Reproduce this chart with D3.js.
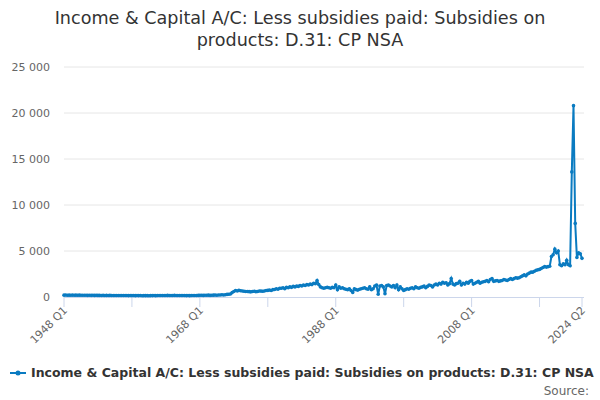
<!DOCTYPE html><html><head><meta charset="utf-8"><script src="https://cdn.jsdelivr.net/npm/d3@7"></script>
<style>body{margin:0;background:#fff;font-family:"DejaVu Sans",sans-serif}</style></head><body><svg id="c" width="600" height="400"></svg><script>
const startYear=1948;
const values=[200,210,190,200,195,205,190,200,190,200,185,195,185,190,180,190,180,185,175,185,175,180,170,180,170,175,165,175,165,170,160,170,160,165,155,165,160,165,150,160,
150,160,145,155,150,155,140,150,145,150,140,150,150,160,145,155,160,170,155,165,165,175,160,170,170,180,160,170,160,170,155,165,150,160,145,160,160,170,160,175,
180,190,175,185,190,200,180,195,200,215,190,210,220,240,210,250,280,300,330,480,
600,700,650,720,680,650,620,600,600,580,560,600,620,580,600,650,640,620,660,700,
720,760,700,800,820,900,850,950,950,1000,900,1050,1000,1100,1050,1150,1100,1200,1150,1250,
1200,1300,1250,1350,1300,1400,1350,1500,1450,1800,1350,1100,1000,950,1000,1050,1000,950,1050,1000,
1300,800,1100,950,1000,900,850,800,900,700,500,900,800,750,850,900,950,1000,900,850,
1100,800,900,1200,1300,300,1200,1250,1100,350,1250,1300,1200,1100,1250,1000,1300,800,1100,900,
700,800,900,850,950,1000,900,1100,1000,950,1050,1100,1200,1000,1150,1300,1250,1100,1300,1400,
1300,1500,1400,1600,1500,1550,1300,1450,2000,1400,1300,1450,1500,1700,1300,1500,1400,1600,1500,1700,
1800,1400,1500,1600,1700,1500,1600,1650,1700,1800,1650,1900,2000,1700,1750,1800,1700,1750,1800,1900,
1850,1800,1900,2000,1900,2000,2100,2050,2100,2200,2300,2400,2300,2500,2600,2700,2700,2800,2900,2950,
3000,3100,3200,3300,3250,3300,3350,4400,4600,5200,4800,5000,3500,3400,3600,3500,4000,3500,3400,13600,
20800,8000,4300,4800,4700,4200];
const labels=values.map((v,i)=>`${startYear+Math.floor(i/4)} Q${i%4+1}`);
const shownLabels=["1948 Q1","1968 Q1","1988 Q1","2008 Q1","2024 Q2"];
const yTicks=[0,5000,10000,15000,20000,25000];
const seriesName="Income & Capital A/C: Less subsidies paid: Subsidies on products: D.31: CP NSA";
const svg=d3.select("#c");
const L=64,R=582,T=67,B=297;
const x=d3.scaleLinear().domain([0,values.length-1]).range([L,R]);
const y=d3.scaleLinear().domain([0,25000]).range([B,T]);
const fmt=v=>d3.format(",")(v).replace(/,/g," ");
svg.append("text").attr("x",300).attr("y",24).attr("text-anchor","middle").attr("font-size",17.6).attr("fill","#333").text("Income & Capital A/C: Less subsidies paid: Subsidies on");
svg.append("text").attr("x",300).attr("y",46).attr("text-anchor","middle").attr("font-size",17.6).attr("fill","#333").text("products: D.31: CP NSA");
yTicks.forEach(t=>{
 if(t>0)svg.append("line").attr("x1",L).attr("x2",R+2).attr("y1",y(t)).attr("y2",y(t)).attr("stroke","#e6e6e6");
 svg.append("text").attr("x",50).attr("y",y(t)+4).attr("text-anchor","end").attr("font-size",11).attr("fill","#666").text(fmt(t));
});
svg.append("line").attr("x1",L).attr("x2",R+2).attr("y1",B+0.5).attr("y2",B+0.5).attr("stroke","#ccd6eb");
const tickIdx=[];for(let i=0;i<values.length;i+=40)tickIdx.push(i);tickIdx.push(values.length-1);
tickIdx.forEach(i=>svg.append("line").attr("x1",x(i)).attr("x2",x(i)).attr("y1",B).attr("y2",B+10).attr("stroke","#ccd6eb"));
shownLabels.forEach(l=>{const i=labels.indexOf(l);
 svg.append("text").attr("transform",`translate(${x(i)+4},${B+14}) rotate(-45)`).attr("text-anchor","end").attr("font-size",11).attr("fill","#666").text(l);});
const line=d3.line().x((d,i)=>x(i)).y(d=>y(d));
svg.append("path").datum(values).attr("d",line).attr("fill","none").attr("stroke","#0a7bc1").attr("stroke-width",2);
svg.selectAll("circle.p").data(values).join("circle").attr("cx",(d,i)=>x(i)).attr("cy",d=>y(d)).attr("r",1.8).attr("fill","#0a7bc1");
const lg=svg.append("g");
lg.append("line").attr("x1",10).attr("x2",26).attr("y1",373).attr("y2",373).attr("stroke","#0a7bc1").attr("stroke-width",2);
lg.append("circle").attr("cx",18).attr("cy",373).attr("r",2.5).attr("fill","#0a7bc1");
lg.append("text").attr("x",31).attr("y",377).attr("font-size",12.5).attr("font-weight","bold").attr("fill","#333").text(seriesName);
svg.append("text").attr("x",589).attr("y",395).attr("text-anchor","end").attr("font-size",12).attr("fill","#666").text("Source:");
</script></body></html>
